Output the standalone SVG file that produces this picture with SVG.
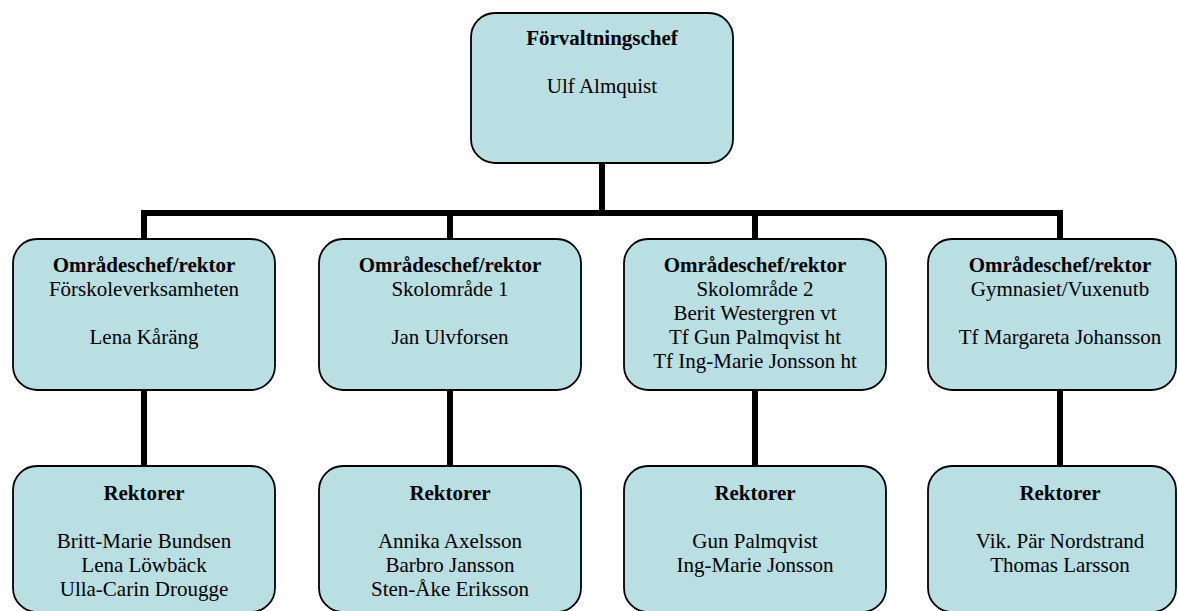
<svg xmlns="http://www.w3.org/2000/svg" width="1178" height="611" viewBox="0 0 1178 611">
<style>
.box{fill:#BADFE3;stroke:#000;stroke-width:1.8}
.t{font-family:'Liberation Serif','Times New Roman',Times,'DejaVu Serif',serif;font-size:21px;fill:#000;text-anchor:middle}
.b{font-weight:bold}
.c{stroke:#000;stroke-width:6;fill:none}
</style>
<rect width="1178" height="611" fill="#fff"/>
<g id="connectors">
<line class="c" x1="602" y1="163" x2="602" y2="213"/>
<line class="c" x1="141" y1="213" x2="1063" y2="213"/>
<line class="c" x1="144" y1="213" x2="144" y2="239"/>
<line class="c" x1="450" y1="213" x2="450" y2="239"/>
<line class="c" x1="755" y1="213" x2="755" y2="239"/>
<line class="c" x1="1060" y1="213" x2="1060" y2="239"/>
<line class="c" x1="144" y1="390" x2="144" y2="466"/>
<line class="c" x1="450" y1="390" x2="450" y2="466"/>
<line class="c" x1="755" y1="390" x2="755" y2="466"/>
<line class="c" x1="1060" y1="390" x2="1060" y2="466"/>
</g>
<g id="n-top">
<rect class="box" x="471" y="13" width="262" height="150" rx="24"/>
<text class="t b" x="602" y="45" font-family="Liberation Serif, serif">Förvaltningschef</text>
<text class="t" x="602" y="93" font-family="Liberation Serif, serif">Ulf Almquist</text>
</g>
<g id="n-m1">
<rect class="box" x="13" y="239" width="262" height="151" rx="24"/>
<text class="t b" x="144" y="272">Områdeschef/rektor</text>
<text class="t" x="144" y="296">Förskoleverksamheten</text>
<text class="t" x="144" y="344">Lena Kåräng</text>
</g>
<g id="n-m2">
<rect class="box" x="319" y="239" width="262" height="151" rx="24"/>
<text class="t b" x="450" y="272">Områdeschef/rektor</text>
<text class="t" x="450" y="296">Skolområde 1</text>
<text class="t" x="450" y="344">Jan Ulvforsen</text>
</g>
<g id="n-m3">
<rect class="box" x="624" y="239" width="262" height="151" rx="24"/>
<text class="t b" x="755" y="272">Områdeschef/rektor</text>
<text class="t" x="755" y="296">Skolområde 2</text>
<text class="t" x="755" y="320">Berit Westergren vt</text>
<text class="t" x="755" y="344">Tf Gun Palmqvist ht</text>
<text class="t" x="755" y="368">Tf Ing-Marie Jonsson ht</text>
</g>
<g id="n-m4">
<rect class="box" x="928" y="239" width="248" height="151" rx="24"/>
<text class="t b" x="1060" y="272">Områdeschef/rektor</text>
<text class="t" x="1060" y="296">Gymnasiet/Vuxenutb</text>
<text class="t" x="1060" y="344">Tf Margareta Johansson</text>
</g>
<g id="n-r1">
<rect class="box" x="13" y="466" width="262" height="146" rx="24"/>
<text class="t b" x="144" y="500">Rektorer</text>
<text class="t" x="144" y="548">Britt-Marie Bundsen</text>
<text class="t" x="144" y="572">Lena Löwbäck</text>
<text class="t" x="144" y="596">Ulla-Carin Drougge</text>
</g>
<g id="n-r2">
<rect class="box" x="319" y="466" width="262" height="146" rx="24"/>
<text class="t b" x="450" y="500">Rektorer</text>
<text class="t" x="450" y="548">Annika Axelsson</text>
<text class="t" x="450" y="572">Barbro Jansson</text>
<text class="t" x="450" y="596">Sten-Åke Eriksson</text>
</g>
<g id="n-r3">
<rect class="box" x="624" y="466" width="262" height="146" rx="24"/>
<text class="t b" x="755" y="500">Rektorer</text>
<text class="t" x="755" y="548">Gun Palmqvist</text>
<text class="t" x="755" y="572">Ing-Marie Jonsson</text>
</g>
<g id="n-r4">
<rect class="box" x="928" y="466" width="248" height="146" rx="24"/>
<text class="t b" x="1060" y="500">Rektorer</text>
<text class="t" x="1060" y="548">Vik. Pär Nordstrand</text>
<text class="t" x="1060" y="572">Thomas Larsson</text>
</g>
</svg>
